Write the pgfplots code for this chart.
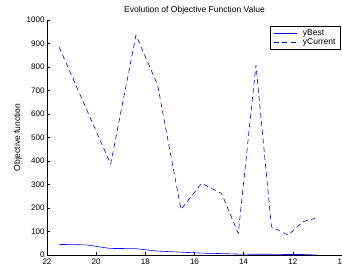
\documentclass[border=0pt]{standalone}
\usepackage{fontspec}
\setmainfont{Liberation Sans}
\usepackage{pgfplots}
\pgfplotsset{compat=1.18}
\begin{document}
\begin{tikzpicture}
\begin{axis}[
  name=ax,
  at={(0,0)}, anchor=south west,
  scale only axis,
  width=295pt, height=235pt,
  xmin=10, xmax=22, ymin=0, ymax=1000,
  x dir=reverse,
  xtick={10,12,...,22},
  ytick={0,100,...,1000},
  axis x line*=bottom, axis y line*=left,
  tick align=inside,
  major tick length=3.5pt,
  axis line style={line width=0.6pt},
  tick style={line width=0.6pt, black},
  /pgf/number format/assume math mode=true,
  /pgf/number format/1000 sep={},
  tick label style={font=\fontsize{8}{9}\selectfont},
  xticklabel style={yshift=0pt},
  yticklabel style={xshift=1pt},
  title={Evolution of Objective Function Value},
  title style={font=\fontsize{8.5}{10}\selectfont, at={(0.5,1)}, anchor=south, yshift=-4pt},
  ylabel={Objective function},
  ylabel style={font=\fontsize{8.5}{10}\selectfont, yshift=-2pt},
  legend cell align=left,
  legend style={at={(1,1)}, anchor=north east, xshift=-1pt, yshift=-6pt,
    draw=black, line width=0.9pt, font=\fontsize{8.5}{10}\selectfont,
    inner xsep=3pt, inner ysep=1pt, row sep=-2pt,
    /tikz/every odd column/.append style={column sep=4pt}},
  legend image code/.code={\draw[#1, line width=0.7pt, draw=blue] (0pt,0pt) -- (23pt,0pt);},
]
\addplot[color=blue, line width=0.6pt] coordinates {
  (21.51,45) (20.40,43) (19.44,28) (18.38,27) (17.55,17) (16.55,12)
  (15.71,8) (14.90,6) (14.22,4) (13.50,3) (12.87,3) (12.19,2) (11.58,2) (11.04,0)
};
\addlegendentry{yBest}
\addplot[color=blue, line width=0.6pt, dash pattern=on 5pt off 3.5pt] coordinates {
  (21.51,885) (19.41,387) (18.38,936) (17.50,723) (16.55,194) (15.71,305)
  (14.90,262) (14.22,92) (13.50,808) (12.87,120) (12.19,85) (11.58,142) (11.10,156)
};
\addlegendentry{yCurrent}
\end{axis}
\pgfresetboundingbox
\path[use as bounding box] ([shift={(-47pt,-13pt)}]ax.south west) rectangle ([shift={(0pt,20pt)}]ax.north east);
\end{tikzpicture}
\end{document}
